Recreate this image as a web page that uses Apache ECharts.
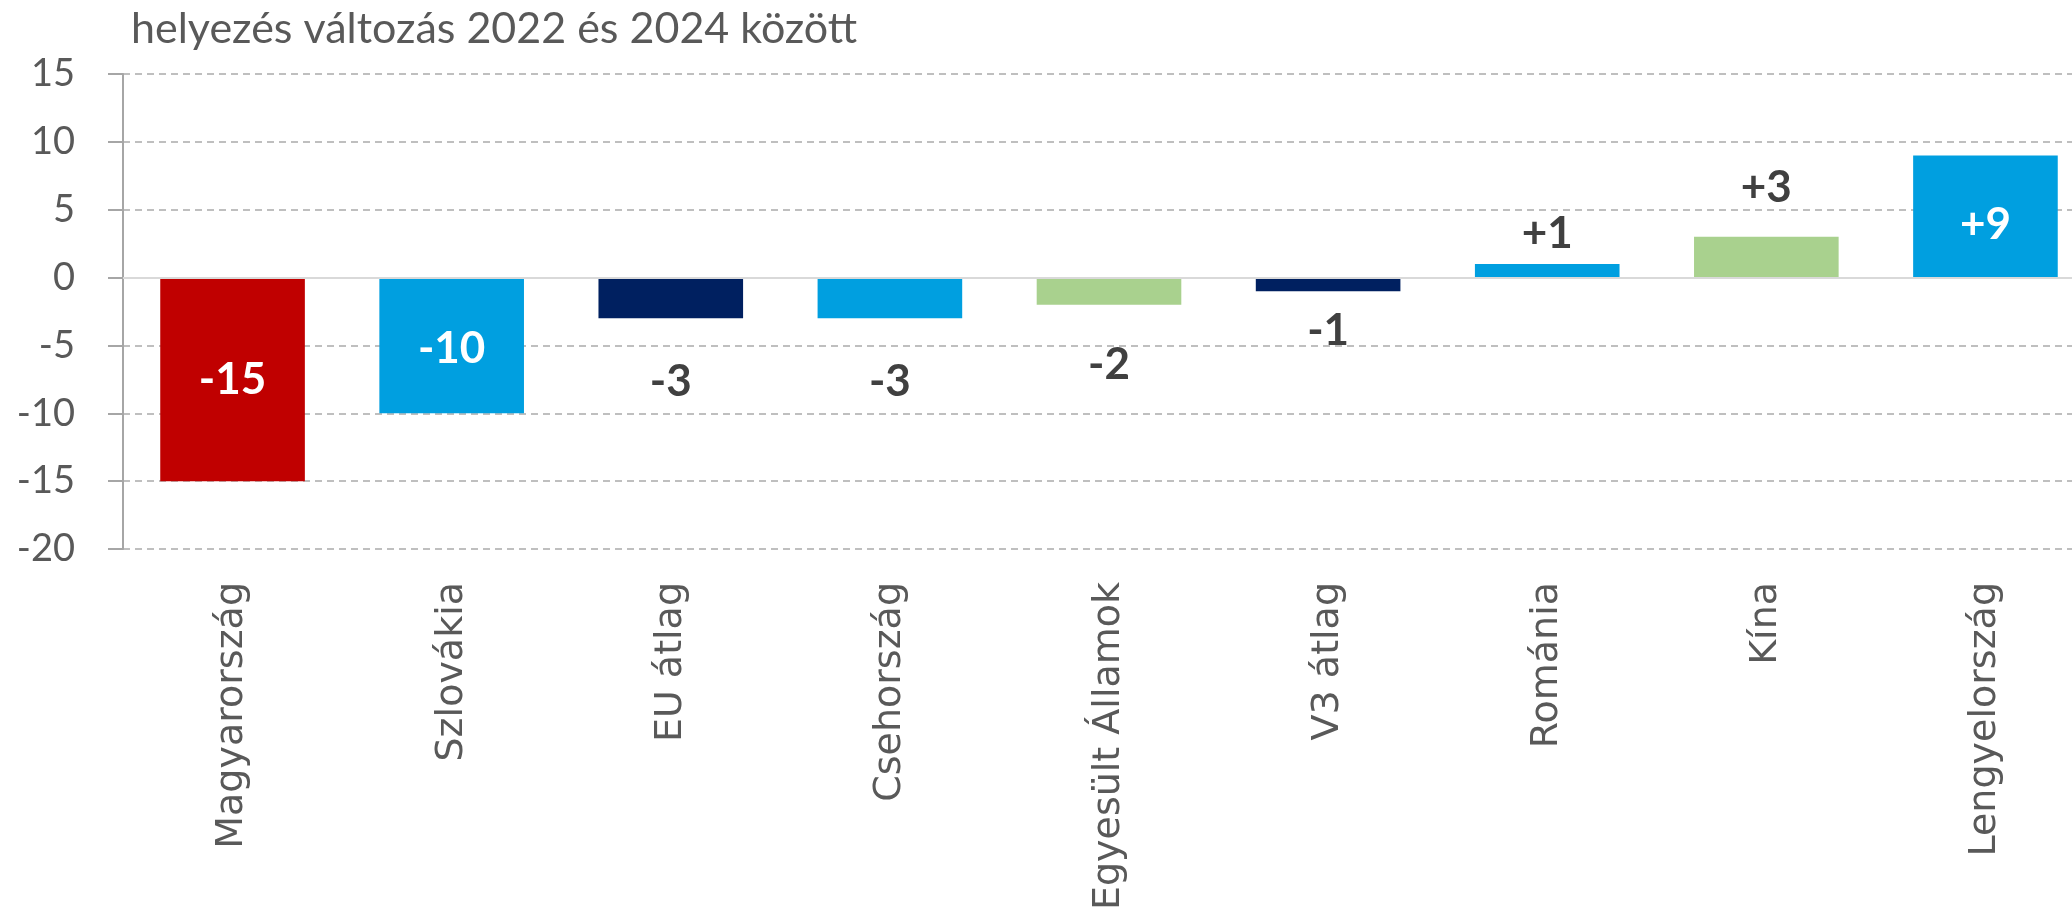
<!DOCTYPE html>
<html lang="hu">
<head>
  <meta charset="UTF-8">
  <title>helyezés változás</title>
  <script src="https://cdn.jsdelivr.net/npm/echarts@6/dist/echarts.min.js"></script>
  <style>
    html, body { margin: 0; padding: 0; background: #fff; }
    #main { width: 2072px; height: 909px; }
  </style>
</head>
<body>
  <div id="main"></div>
  <script>
    // adatok
    var categories = ['Magyarország', 'Szlovákia', 'EU átlag', 'Csehország', 'Egyesült Államok', 'V3 átlag', 'Románia', 'Kína', 'Lengyelország'];
    var values = [-15, -10, -3, -3, -2, -1, 1, 3, 9];
    var yMin = -20, yMax = 15, yStep = 5;

    // oszlopszínek és címke-elhelyezés (stílus)
    var barColors = ['#C00000', '#009FE0', '#002060', '#009FE0', '#A9D18E', '#002060', '#009FE0', '#A9D18E', '#009FE0'];
    var labelInside = [true, true, false, false, false, false, false, false, true];
    var labelDistance = [0, 0, 42, 42, 38, 18, 8, 27, 0];
    var labelShift = [0, 3, 0, 0, 0, 0, 0, 0, 8];

    var seriesData = values.map(function (v, i) {
      return {
        value: v,
        itemStyle: { color: barColors[i] },
        label: labelInside[i]
          ? { position: 'inside', color: '#ffffff', offset: [0, labelShift[i]] }
          : { position: 'outside', color: '#404040', distance: labelDistance[i] }
      };
    });

    var chart = echarts.init(document.getElementById('main'));
    var option = {
      animation: false,
      title: {
        text: 'helyezés változás 2022 és 2024 között',
        left: 126,
        top: 3,
        textStyle: { fontFamily: 'Lato', fontSize: 43, fontWeight: 'normal', color: '#595959' }
      },
      // a rajzterület a jobb szélen túl folytatódik, mint az eredetin
      grid: { left: 123, top: 74, bottom: 360, width: 1972, containLabel: false, outerBoundsMode: 'none' },
      xAxis: {
        type: 'category',
        data: categories,
        axisLine: { show: false, onZero: false },
        axisTick: { show: false },
        splitLine: { show: false },
        axisLabel: {
          rotate: 90,
          margin: 33,
          interval: 0,
          fontFamily: 'DejaVu Sans',
          fontSize: 38,
          color: '#595959'
        }
      },
      yAxis: {
        type: 'value',
        min: yMin,
        max: yMax,
        interval: yStep,
        axisLine: { show: true, onZero: false, lineStyle: { color: '#A6A6A6', width: 2 } },
        axisTick: { show: true, inside: false, length: 15, lineStyle: { color: '#A6A6A6', width: 2 } },
        splitLine: { show: true, lineStyle: { color: '#BFBFBF', width: 2, type: [7, 5] } },
        axisLabel: { margin: 48, fontFamily: 'Lato', fontSize: 38, color: '#595959' }
      },
      series: [{
        type: 'bar',
        data: seriesData,
        barWidth: '66%',
        label: {
          show: true,
          fontFamily: 'Lato',
          fontWeight: 'bold',
          fontSize: 44,
          formatter: function (p) { return p.value > 0 ? '+' + p.value : String(p.value); }
        },
        markLine: {
          silent: true,
          symbol: 'none',
          label: { show: false },
          lineStyle: { color: '#D9D9D9', type: 'solid', width: 2 },
          data: [{ yAxis: 0 }]
        }
      }]
    };
    chart.setOption(option);
  </script>
</body>
</html>
